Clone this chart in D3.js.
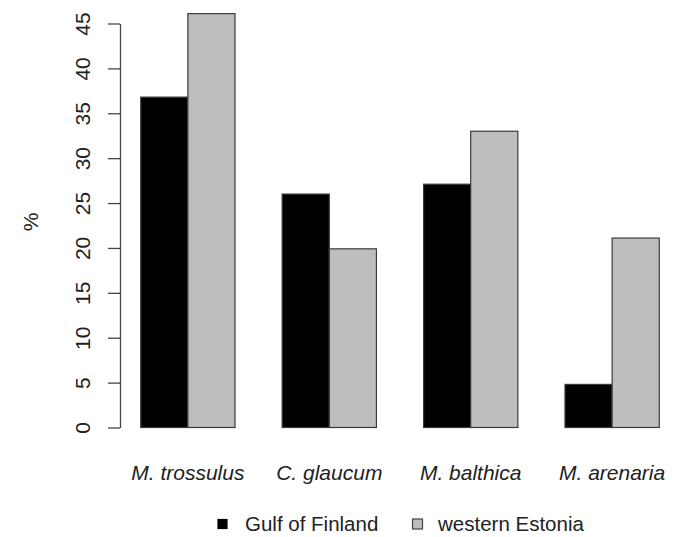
<!DOCTYPE html>
<html>
<head>
<meta charset="utf-8">
<script src="https://cdn.jsdelivr.net/npm/d3@7"></script>
<style>
html, body { margin: 0; padding: 0; background: #fff; }
svg { display: block; }
text { font-family: "Liberation Sans", Arial, sans-serif; fill: #222; }
</style>
</head>
<body>
<svg id="chart" width="682" height="537"></svg>
<script>
// Data
const categories = ["M. trossulus", "C. glaucum", "M. balthica", "M. arenaria"];
const seriesNames = ["Gulf of Finland", "western Estonia"];
const gulfOfFinland = [36.8, 26.0, 27.1, 4.8];
const westernEstonia = [46.1, 19.9, 33.0, 21.1];
const yTicks = [0, 5, 10, 15, 20, 25, 30, 35, 40, 45];
const seriesColors = ["#000000", "#bebebe"];

const svg = d3.select("#chart");

// R-style barplot units: group i bars span [3i+1, 3i+3], with 4% expansion
const x = d3.scaleLinear().domain([0.56, 12.44]).range([120, 680]);
const y = d3.scaleLinear().domain([0, 45]).range([427.5, 23.5]);

const series = [gulfOfFinland, westernEstonia];
const bars = [];
categories.forEach((c, i) => {
  series.forEach((s, j) => {
    bars.push({ cat: c, j: j, v: s[i], x0: 3 * i + 1 + j, x1: 3 * i + 2 + j });
  });
});

svg.append("g").selectAll("rect").data(bars).join("rect")
  .attr("x", d => x(d.x0))
  .attr("y", d => y(d.v))
  .attr("width", d => x(d.x1) - x(d.x0))
  .attr("height", d => y(0) - y(d.v))
  .attr("fill", d => seriesColors[d.j])
  .attr("stroke", "#3a3a3a")
  .attr("stroke-width", 1.2);

// Y axis
const yAxis = d3.axisLeft(y).tickValues(yTicks).tickSize(12).tickSizeOuter(0).tickPadding(0);
const ga = svg.append("g").attr("transform", "translate(120,0)").call(yAxis);
ga.select(".domain").attr("stroke", "#444").attr("stroke-width", 1.3);
ga.selectAll(".tick line").attr("stroke", "#444").attr("stroke-width", 1.3);
ga.selectAll(".tick text")
  .attr("font-size", 21)
  .attr("font-family", "Liberation Sans, Arial, sans-serif")
  .attr("fill", "#222")
  .attr("text-anchor", "middle")
  .attr("x", 0).attr("dy", 0)
  .attr("transform", "translate(-30,0) rotate(-90)");

// Y title
svg.append("text")
  .attr("transform", "translate(38,222) rotate(-90)")
  .attr("text-anchor", "middle")
  .attr("font-size", 21)
  .text("%");

// Category labels
svg.append("g").selectAll("text").data(categories).join("text")
  .attr("x", (d, i) => x(3 * i + 2))
  .attr("y", 480)
  .attr("text-anchor", "middle")
  .attr("font-size", 21)
  .attr("font-style", "italic")
  .text(d => d);

// Legend
const legendSq = [{ x: 222.5, s: 9 }, { x: 417.5, s: 10 }];
const legendTx = [245, 438];
const lg = svg.append("g");
seriesNames.forEach((n, j) => {
  lg.append("rect")
    .attr("x", legendSq[j].x - legendSq[j].s / 2)
    .attr("y", 524 - legendSq[j].s / 2)
    .attr("width", legendSq[j].s)
    .attr("height", legendSq[j].s)
    .attr("fill", seriesColors[j])
    .attr("stroke", j === 0 ? "#000" : "#444")
    .attr("stroke-width", 1.2);
  lg.append("text")
    .attr("x", legendTx[j])
    .attr("y", 531)
    .attr("font-size", 20.5)
    .text(n);
});
</script>
</body>
</html>
